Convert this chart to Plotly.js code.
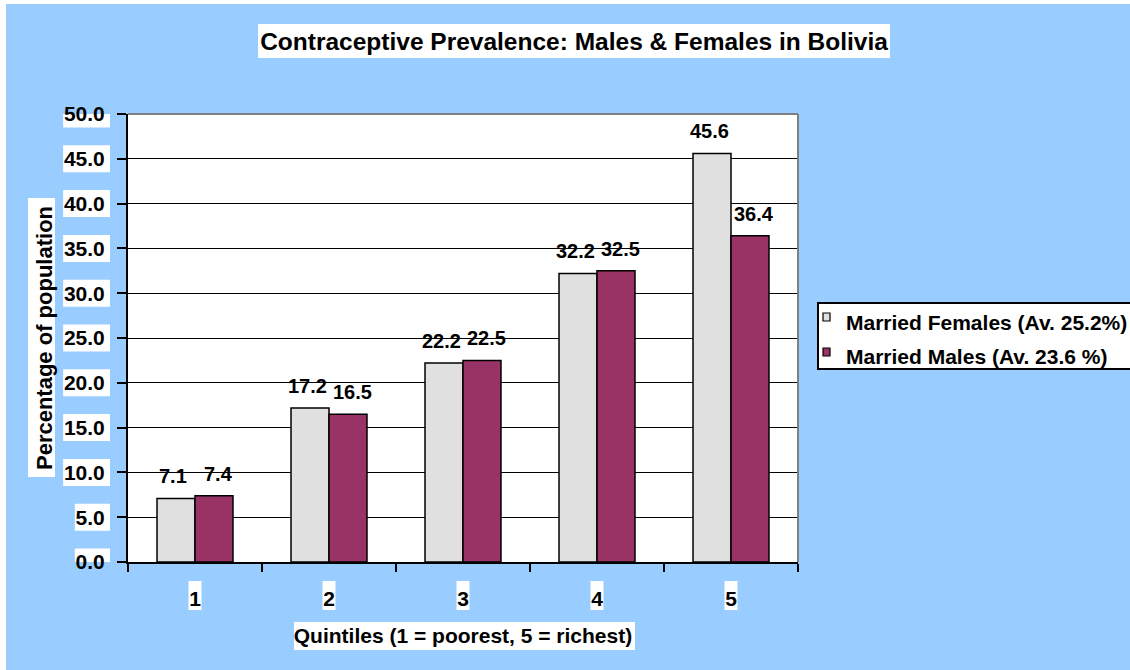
<!DOCTYPE html>
<html>
<head>
<meta charset="utf-8">
<script src="https://cdn.plot.ly/plotly-3.0.1.min.js"></script>
<style>html,body{margin:0;padding:0;background:#fff;}#chart{width:1130px;height:670px;}</style>
</head>
<body>
<div id="chart"></div>
<script>
// ---- data ----
const quintiles = ["1", "2", "3", "4", "5"];
const femaleValues = [7.1, 17.2, 22.2, 32.2, 45.6];
const maleValues = [7.4, 16.5, 22.5, 32.5, 36.4];
const femaleName = "Married Females (Av. 25.2%)";
const maleName = "Married Males (Av. 23.6 %)";
const yTickValues = [0, 5, 10, 15, 20, 25, 30, 35, 40, 45, 50];
const chartTitle = "Contraceptive Prevalence: Males & Females in Bolivia";
const xTitle = "Quintiles (1 = poorest, 5 = richest)";
const yTitle = "Percentage of population";

// ---- layout geometry (pixels) ----
const FIG_W = 1130, FIG_H = 670;
const PL = 128, PR = 798, PT = 114, PB = 562;
const PW = PR - PL, PH = PB - PT;
const px = x => (x - PL) / PW;
const py = y => (PB - y) / PH;

const FONT = "Liberation Sans, Arial, Helvetica, sans-serif";
const BLUE = "#99CCFF";
const FEMALE_COLOR = "#E0E0E0";
const MALE_COLOR = "#993366";

const series = [
  {name: femaleName, values: femaleValues, color: FEMALE_COLOR, shift: -22},
  {name: maleName, values: maleValues, color: MALE_COLOR, shift: 23}
];

const traces = series.map(s => ({
  type: "bar", name: s.name, x: quintiles, y: s.values,
  marker: {color: s.color, line: {color: "#000", width: 1.5}},
  hoverinfo: "y", showlegend: false
}));

const shapes = [];
// outer light-blue chart area
shapes.push({type: "rect", xref: "paper", yref: "paper", layer: "below",
  x0: px(6), x1: px(FIG_W + 4), y0: py(FIG_H + 4), y1: py(4),
  fillcolor: BLUE, line: {width: 0}});
// white plot area
shapes.push({type: "rect", xref: "paper", yref: "paper", layer: "below",
  x0: 0, x1: 1, y0: 0, y1: 1, fillcolor: "#fff", line: {width: 0}});
// title box
shapes.push({type: "rect", xref: "paper", yref: "paper", layer: "below",
  x0: px(258), x1: px(890), y0: py(58), y1: py(24), fillcolor: "#fff", line: {width: 0}});
// y title box
shapes.push({type: "rect", xref: "paper", yref: "paper", layer: "below",
  x0: px(28), x1: px(55), y0: py(477), y1: py(198), fillcolor: "#fff", line: {width: 0}});
// x title box
shapes.push({type: "rect", xref: "paper", yref: "paper", layer: "below",
  x0: px(294), x1: px(635), y0: py(650), y1: py(622), fillcolor: "#fff", line: {width: 0}});
// y tick label boxes
yTickValues.forEach(v => {
  const s = v.toFixed(1);
  const tw = 21 * (0.556 * (s.length - 1) + 0.278);
  shapes.push({type: "rect", xref: "paper", yref: "y", layer: "below",
    ysizemode: "pixel", yanchor: v, y0: -13.5, y1: 13.5,
    x0: px(110 - tw - 6), x1: px(110), fillcolor: "#fff", line: {width: 0}});
});
// x tick label boxes
quintiles.forEach((q, i) => {
  shapes.push({type: "rect", xref: "x", yref: "paper", layer: "below",
    xsizemode: "pixel", xanchor: i, x0: -6.5, x1: 6.5,
    y0: py(610), y1: py(581), fillcolor: "#fff", line: {width: 0}});
});
// gray top and right plot border
shapes.push({type: "line", xref: "paper", yref: "paper", layer: "above",
  x0: 0, x1: 1, y0: 1, y1: 1, line: {color: "#808080", width: 2}});
shapes.push({type: "line", xref: "paper", yref: "paper", layer: "above",
  x0: 1, x1: 1, y0: 0, y1: 1, line: {color: "#808080", width: 2}});

// legend box, swatches and labels
const annotations = [];
shapes.push({type: "rect", xref: "paper", yref: "paper", layer: "above",
  x0: px(818), x1: px(1150), y0: py(369), y1: py(303),
  fillcolor: "#fff", line: {color: "#000", width: 2}});
const legendRows = [{sw: [313, 321], text: 322}, {sw: [348, 356], text: 356}];
series.forEach((s, k) => {
  const r = legendRows[k];
  shapes.push({type: "rect", xref: "paper", yref: "paper", layer: "above",
    x0: px(823), x1: px(830), y0: py(r.sw[1]), y1: py(r.sw[0]),
    fillcolor: s.color, line: {color: "#000", width: 1.2}});
  annotations.push({xref: "paper", yref: "paper", x: px(844), y: py(r.text),
    xanchor: "left", yanchor: "middle", showarrow: false, text: s.name,
    font: {family: FONT, size: 21, color: "#000", weight: "bold"}});
});

// value labels above bars
series.forEach(s => {
  s.values.forEach((v, i) => {
    annotations.push({x: i, y: v, xref: "x", yref: "y",
      text: v.toFixed(1), showarrow: false, xshift: s.shift, yshift: 9,
      yanchor: "bottom", xanchor: "center",
      font: {family: FONT, size: 20, color: "#000", weight: "bold"}});
  });
});

const layout = {
  width: FIG_W, height: FIG_H, autosize: false,
  margin: {l: PL, r: FIG_W - PR, t: PT, b: FIG_H - PB, pad: 0},
  paper_bgcolor: "#fff",
  plot_bgcolor: "rgba(0,0,0,0)",
  font: {family: FONT, color: "#000", size: 21, weight: "bold"},
  title: {text: chartTitle, xref: "container", yref: "container",
    x: 574 / FIG_W, y: 1 - 41 / FIG_H, xanchor: "center", yanchor: "middle",
    font: {family: FONT, size: 24.5, color: "#000", weight: "bold"}},
  barmode: "group", bargap: 0.433, bargroupgap: 0,
  showlegend: false,
  xaxis: {
    type: "category", categoryorder: "array", categoryarray: quintiles,
    range: [-0.5, quintiles.length - 0.5],
    showline: true, linecolor: "#000", linewidth: 2,
    ticks: "outside", tickson: "boundaries", ticklen: 8, tickwidth: 2, tickcolor: "#000",
    ticklabelstandoff: 17,
    showgrid: false, zeroline: false,
    tickfont: {family: FONT, size: 21, color: "#000", weight: "bold"},
    title: {text: xTitle, standoff: 19,
      font: {family: FONT, size: 21, color: "#000", weight: "bold"}},
    fixedrange: true
  },
  yaxis: {
    range: [0, 50], tickvals: yTickValues, tickformat: ".1f",
    showline: true, linecolor: "#000", linewidth: 2,
    ticks: "outside", ticklen: 9, tickwidth: 2, tickcolor: "#000",
    ticklabelstandoff: 8,
    showgrid: true, gridcolor: "#000", gridwidth: 1, zeroline: false,
    tickfont: {family: FONT, size: 21, color: "#000", weight: "bold"},
    title: {text: yTitle, standoff: 5,
      font: {family: FONT, size: 22, color: "#000", weight: "bold"}},
    fixedrange: true
  },
  shapes: shapes,
  annotations: annotations
};

Plotly.newPlot("chart", traces, layout, {displayModeBar: false, staticPlot: true});
</script>
</body>
</html>
